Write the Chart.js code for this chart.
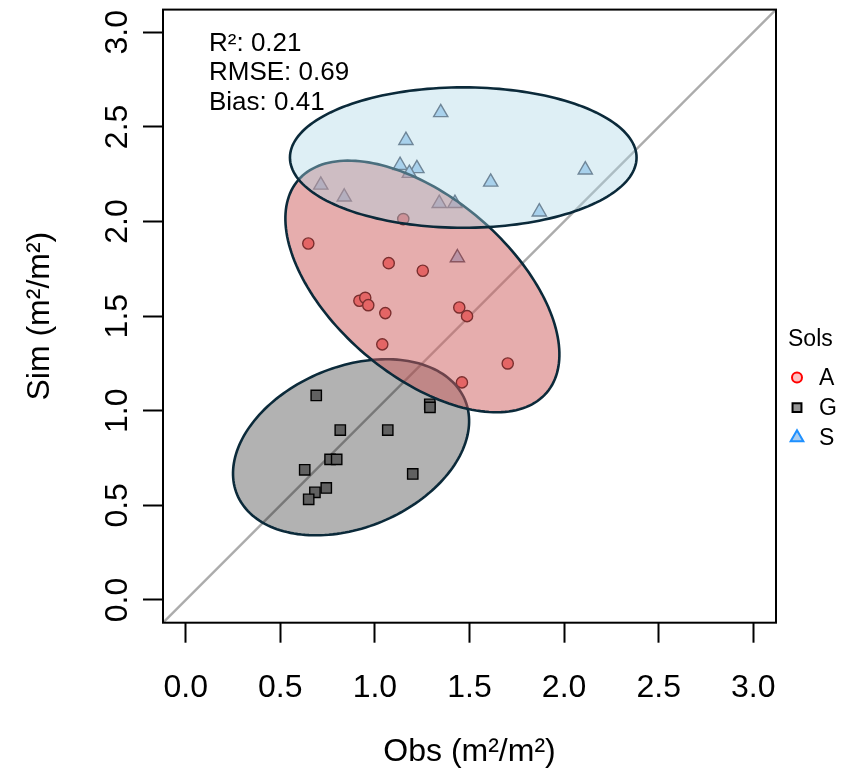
<!DOCTYPE html>
<html>
<head>
<meta charset="utf-8">
<script src="https://cdn.jsdelivr.net/npm/chart.js@4.4.1/dist/chart.umd.min.js"></script>
<style>
  html, body { margin: 0; padding: 0; background: #fff; }
</style>
</head>
<body>
<canvas id="chart" width="841" height="776"></canvas>
<script>
// observed vs simulated, by soil group
const groups = ['A', 'G', 'S'];
const obsA = [0.648, 1.073, 1.253, 0.918, 0.949, 0.965, 1.055, 1.446, 1.487, 1.039, 1.702, 1.460, 1.150];
const simA = [1.884, 1.780, 1.740, 1.581, 1.597, 1.558, 1.516, 1.546, 1.500, 1.351, 1.250, 1.150, 2.013];
const obsG = [0.690, 1.290, 1.291, 0.817, 1.068, 0.763, 0.798, 0.629, 1.200, 0.743, 0.683, 0.650];
const simG = [1.081, 1.034, 1.018, 0.898, 0.898, 0.743, 0.743, 0.688, 0.666, 0.592, 0.569, 0.532];
const obsS = [1.348, 1.164, 1.133, 1.222, 1.182, 2.112, 0.714, 1.612, 0.838, 1.340, 1.423, 1.869, 1.436];
const simS = [2.576, 2.429, 2.297, 2.280, 2.255, 2.273, 2.193, 2.209, 2.130, 2.096, 2.096, 2.051, 1.809];

// group ellipses (A, G, S): centre, semi-axes, angle in degrees
const ellCx = [1.251, 0.874, 1.467];
const ellCy = [1.657, 0.807, 2.338];
const ellA = [0.864, 0.652, 0.916];
const ellB = [0.469, 0.425, 0.371];
const ellAngle = [-40.5, 22.5, 0];

const axisMin = -0.12, axisMax = 3.12;
const tickValues = [0, 0.5, 1, 1.5, 2, 2.5, 3];
const tickLabels = ['0.0', '0.5', '1.0', '1.5', '2.0', '2.5', '3.0'];
const statLabels = ['R²: 0.21', 'RMSE: 0.69', 'Bias: 0.41'];

const ptStyle = ['circle', 'rect', 'triangle'];
const ptFill = ['rgb(250,110,110)', 'rgb(140,140,140)', 'rgb(165,205,240)'];
const ptBorder = ['rgb(40,0,0)', 'rgb(0,0,0)', 'rgb(70,80,100)'];
const ptRadius = [5.6, 7.3, 8.2];
const ellFill = ['rgba(205,92,92,0.5)', 'rgba(0,0,0,0.3)', 'rgba(173,216,230,0.4)'];
const legFill = ['rgba(255,120,120,0.45)', 'rgb(150,150,150)', 'rgb(170,205,240)'];
const legBorder = ['rgb(255,0,0)', 'rgb(0,0,0)', 'rgb(30,144,255)'];

Chart.defaults.font.family = "'Liberation Sans', Arial, Helvetica, sans-serif";
Chart.defaults.color = '#000';

const toXY = (xs, ys) => xs.map((v, i) => ({ x: v, y: ys[i] }));
const groupData = [toXY(obsA, simA), toXY(obsG, simG), toXY(obsS, simS)];

const datasets = groups.map((g, i) => ({
  label: g,
  data: groupData[i],
  pointStyle: ptStyle[i],
  pointRadius: ptRadius[i],
  pointBackgroundColor: ptFill[i],
  pointBorderColor: ptBorder[i],
  pointBorderWidth: 1.4
}));
// 1:1 line across the whole plot
datasets.push({
  label: '1:1',
  data: [{ x: axisMin, y: axisMin }, { x: axisMax, y: axisMax }],
  showLine: true,
  borderColor: '#acacac',
  borderWidth: 2.5,
  pointRadius: 0
});

const extras = {
  id: 'extras',
  afterDatasetsDraw(chart) {
    const { ctx, chartArea: ca, scales: { x, y } } = chart;
    ctx.save();
    ctx.beginPath();
    ctx.rect(ca.left, ca.top, ca.right - ca.left, ca.bottom - ca.top);
    ctx.clip();
    [1, 0, 2].forEach(i => {
      const th = ellAngle[i] * Math.PI / 180;
      ctx.beginPath();
      for (let k = 0; k <= 180; k++) {
        const t = k / 180 * 2 * Math.PI;
        const dx = ellA[i] * Math.cos(t), dy = ellB[i] * Math.sin(t);
        const px = x.getPixelForValue(ellCx[i] + dx * Math.cos(th) - dy * Math.sin(th));
        const py = y.getPixelForValue(ellCy[i] + dx * Math.sin(th) + dy * Math.cos(th));
        if (k === 0) ctx.moveTo(px, py); else ctx.lineTo(px, py);
      }
      ctx.closePath();
      ctx.fillStyle = ellFill[i];
      ctx.fill();
      ctx.strokeStyle = '#0b2a3a';
      ctx.lineWidth = 2.6;
      ctx.stroke();
    });
    ctx.restore();
  },
  afterDraw(chart) {
    const { ctx, chartArea: ca, scales: { y } } = chart;
    ctx.save();
    // box
    ctx.strokeStyle = '#000';
    ctx.lineWidth = 2;
    ctx.strokeRect(ca.left, ca.top, ca.right - ca.left, ca.bottom - ca.top);

    // y tick labels, parallel to the axis
    ctx.fillStyle = '#000';
    ctx.font = "32px 'Liberation Sans', Arial, sans-serif";
    ctx.textAlign = 'center';
    ctx.textBaseline = 'middle';
    tickValues.forEach((v, i) => {
      ctx.save();
      ctx.translate(ca.left - 45, y.getPixelForValue(v));
      ctx.rotate(-Math.PI / 2);
      ctx.fillText(tickLabels[i], 0, 0);
      ctx.restore();
    });

    // fit stats
    ctx.font = "26px 'Liberation Sans', Arial, sans-serif";
    ctx.textAlign = 'left';
    ctx.textBaseline = 'alphabetic';
    statLabels.forEach((s, i) => ctx.fillText(s, ca.left + 46, ca.top + 41 + i * 29.5));

    // legend
    const lx = ca.right + 21, ly = ca.top + 368;
    ctx.font = "23px 'Liberation Sans', Arial, sans-serif";
    ctx.fillText('Sols', ca.right + 12, ca.top + 336);
    groups.forEach((g, i) => {
      const cy = ly + i * 30;
      ctx.fillStyle = legFill[i];
      ctx.strokeStyle = legBorder[i];
      ctx.lineWidth = 2;
      Chart.helpers.drawPoint(ctx, { pointStyle: ptStyle[i], radius: [5, 6.3, 7.3][i], rotation: 0, borderWidth: 2 }, lx, cy);
      ctx.fillStyle = '#000';
      ctx.textBaseline = 'middle';
      ctx.fillText(g, ca.right + 43, cy + 1);
    });
    ctx.restore();
  }
};

new Chart(document.getElementById('chart'), {
  type: 'scatter',
  data: { datasets },
  options: {
    responsive: false,
    animation: false,
    devicePixelRatio: 1,
    layout: { padding: { top: 9.5, right: 65, bottom: 0, left: 0 } },
    plugins: { legend: { display: false }, tooltip: { enabled: false } },
    scales: {
      x: {
        type: 'linear',
        min: axisMin,
        max: axisMax,
        afterBuildTicks: s => { s.ticks = tickValues.map(v => ({ value: v })); },
        afterFit: s => { s.height = 153.3; },
        ticks: {
          autoSkip: false,
          maxRotation: 0,
          padding: 26,
          font: { size: 32 },
          callback: (v, i) => tickLabels[i]
        },
        grid: { drawOnChartArea: false, tickLength: 20, tickWidth: 2, tickColor: '#000' },
        border: { display: false },
        title: { display: true, text: 'Obs (m²/m²)', font: { size: 32 }, padding: { top: 0, bottom: 5 } }
      },
      y: {
        type: 'linear',
        min: axisMin,
        max: axisMax,
        afterBuildTicks: s => { s.ticks = tickValues.map(v => ({ value: v })); },
        afterFit: s => { s.width = 163; },
        ticks: { display: false },
        grid: { drawOnChartArea: false, tickLength: 20, tickWidth: 2, tickColor: '#000' },
        border: { display: false },
        title: { display: true, text: 'Sim (m²/m²)', font: { size: 32 }, padding: { top: 21, bottom: 0 } }
      }
    }
  },
  plugins: [extras]
});
</script>
</body>
</html>
